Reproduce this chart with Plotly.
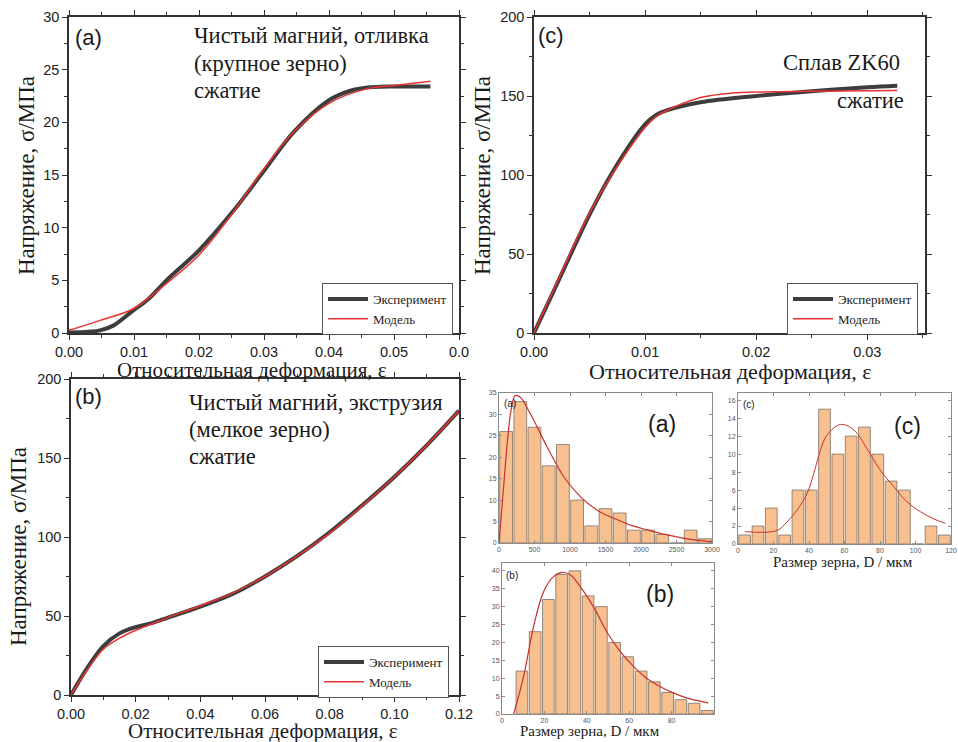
import plotly.graph_objects as go

W, H = 958, 742

# ---------------- data ----------------
# Panel (a): pure Mg cast, compression
a_exp_x = [0.0, 0.003, 0.0048, 0.0068, 0.0099, 0.012, 0.015, 0.02, 0.0253, 0.03, 0.0346, 0.04, 0.0433, 0.0459, 0.05, 0.0556]
a_exp_y = [0.05, 0.12, 0.25, 0.7, 2.15, 3.1, 5.0, 7.85, 11.6, 15.4, 19.1, 22.1, 23.0, 23.3, 23.4, 23.4]
a_mod_x = [0.0, 0.0048, 0.0099, 0.015, 0.02, 0.0253, 0.03, 0.0346, 0.04, 0.0459, 0.05, 0.0556]
a_mod_y = [0.25, 1.2, 2.3, 4.7, 7.4, 11.5, 15.6, 19.1, 21.8, 23.2, 23.5, 23.9]

# Panel (c): ZK60 alloy, compression
c_exp_x = [0.0, 0.002, 0.005, 0.007, 0.01, 0.011, 0.012, 0.015, 0.02, 0.025, 0.03, 0.0327]
c_exp_y = [0.0, 30, 75, 101, 132, 138, 141, 146, 150, 153, 155.5, 156.5]
c_mod_x = [0.0, 0.002, 0.005, 0.007, 0.01, 0.011, 0.012, 0.015, 0.018, 0.02, 0.025, 0.0327]
c_mod_y = [0.0, 31, 76, 100, 130, 137, 141, 149, 152, 152.5, 153, 153.5]

# Panel (b): pure Mg extruded, compression
b_exp_x = [0.0, 0.005, 0.01, 0.015, 0.02, 0.025, 0.03, 0.04, 0.05, 0.06, 0.07, 0.08, 0.09, 0.10, 0.11, 0.12]
b_exp_y = [0.0, 17, 31, 39, 43, 45.5, 49, 56, 64, 75, 88, 103, 120, 138, 158, 180]
b_mod_x = [0.0, 0.005, 0.01, 0.015, 0.02, 0.025, 0.03, 0.04, 0.05, 0.06, 0.07, 0.08, 0.09, 0.10, 0.11, 0.12]
b_mod_y = [0.0, 16, 29, 36, 41, 45, 49, 56.5, 64.5, 75, 88, 102.5, 119.5, 138, 158, 180]

# Histogram (a): grain size, cast Mg
ha_centers = [100, 300, 500, 700, 900, 1100, 1300, 1500, 1700, 1900, 2100, 2300, 2500, 2700, 2900]
ha_counts = [26, 33, 27, 18, 23, 10, 4, 8, 7, 3, 3, 2, 0, 3, 1]
ha_fit_x = [0, 60, 120, 170, 227, 300, 440, 678, 915, 1152, 1389, 1626, 1862, 2100, 2336, 2573, 2810, 3000]
ha_fit_y = [0, 12, 24, 31, 34.4, 34.0, 30.2, 22.4, 15.4, 10.7, 7.6, 5.7, 4.1, 3.0, 2.0, 1.2, 0.6, 0.3]

# Histogram (b): grain size, extruded Mg
hb_centers = [9.375, 15.625, 21.875, 28.125, 34.375, 40.625, 46.875, 53.125, 59.375, 65.625, 71.875, 78.125, 84.375, 90.625, 96.875]
hb_counts = [12, 23, 32, 39, 40, 33, 30, 20, 16, 12, 9, 6, 4, 3, 1]
hb_fit_x = [5.5, 10.2, 14.9, 19.6, 24.3, 28.2, 32.2, 36.9, 43.1, 49.4, 55.7, 62.0, 68.2, 74.5, 80.8, 87.0, 97.3]
hb_fit_y = [0, 10.5, 24.5, 34.2, 38.4, 39.6, 38.9, 35.6, 30.0, 23.0, 17.5, 13.3, 10.0, 7.7, 5.9, 4.5, 3.1]

# Histogram (c): grain size, ZK60
hc_centers = [3.75, 11.25, 18.75, 26.25, 33.75, 41.25, 48.75, 56.25, 63.75, 71.25, 78.75, 86.25, 93.75, 101.25, 108.75, 116.25]
hc_counts = [1, 2, 4, 1, 6, 6, 15, 10, 12, 13, 10, 7, 6, 0, 2, 1]
hc_fit_x = [4.1, 22, 27.6, 33.2, 38.9, 42.6, 46.4, 50.1, 57.7, 65.2, 72.7, 80.2, 87.7, 95.2, 102.7, 110.2, 116.8]
hc_fit_y = [1.37, 1.5, 2.45, 3.75, 5.6, 7.8, 10.4, 12.1, 13.3, 12.7, 10.6, 8.2, 6.4, 4.7, 3.6, 2.8, 2.3]

LEG_EXP = "Эксперимент"
LEG_MOD = "Модель"
X_TITLE = "Относительная деформация, ε"
Y_TITLE = "Напряжение, σ/МПа"
H_TITLE = "Размер зерна, D / мкм"

# ---------------- helpers ----------------
SERIF = "'Liberation Serif', 'Times New Roman', serif"
SANS = "'Liberation Sans', Arial, sans-serif"
EXP_COLOR = "#3d3d3d"
MOD_COLOR = "#e8332f"
BAR_COLOR = "#f9c08f"
FIT_COLOR = "#c8322c"


def px_x(p):
    return p / W


def px_y(p):
    return 1 - p / H


fig = go.Figure()
layout = {}


def main_axes(idx, xd, yd, xr, yr, xtv, xtt, xminor, ytv, yminor):
    xa = "xaxis" if idx == 1 else f"xaxis{idx}"
    ya = "yaxis" if idx == 1 else f"yaxis{idx}"
    xs = "x" if idx == 1 else f"x{idx}"
    ys = "y" if idx == 1 else f"y{idx}"
    common = dict(showgrid=False, zeroline=False, showline=True, linecolor="#333333", linewidth=1.5,
                  mirror="ticks", ticks="outside", ticklen=5, tickwidth=1.2, tickcolor="#333333",
                  automargin=False,
                  tickfont=dict(family=SANS, size=14.5, color="#222222"))
    layout[xa] = dict(domain=[px_x(xd[0]), px_x(xd[1])], range=xr, anchor=ys,
                      tickmode="array", tickvals=xtv, ticktext=xtt,
                      minor=dict(tickmode="array", tickvals=xminor, ticks="outside", ticklen=3, tickcolor="#333333"),
                      **common)
    layout[ya] = dict(domain=[px_y(yd[1]), px_y(yd[0])], range=yr, anchor=xs,
                      tickmode="array", tickvals=ytv, ticktext=[str(v) for v in ytv],
                      minor=dict(tickmode="array", tickvals=yminor, ticks="outside", ticklen=3, tickcolor="#333333"),
                      **common)
    return xs, ys


def hist_axes(idx, xd, yd, xr, yr, xtv, xtt, ytv):
    xa = f"xaxis{idx}"
    ya = f"yaxis{idx}"
    xs = f"x{idx}"
    ys = f"y{idx}"
    common = dict(showgrid=False, zeroline=False, showline=True, linecolor="#8a8a8a", linewidth=1,
                  mirror="ticks", ticks="inside", ticklen=3, tickwidth=1, tickcolor="#8a8a8a",
                  automargin=False,
                  tickfont=dict(family=SANS, size=7, color="#555555"))
    layout[xa] = dict(domain=[px_x(xd[0]), px_x(xd[1])], range=xr, anchor=ys,
                      tickmode="array", tickvals=xtv, ticktext=xtt, **common)
    layout[ya] = dict(domain=[px_y(yd[1]), px_y(yd[0])], range=yr, anchor=xs,
                      tickmode="array", tickvals=ytv, ticktext=[str(v) for v in ytv], **common)
    return xs, ys


# ---------------- main panels ----------------
# (a)
xs, ys = main_axes(1, (69, 459), (17, 333), [0, 0.06], [0, 30],
                   [0, 0.01, 0.02, 0.03, 0.04, 0.05, 0.06],
                   ["0.00", "0.01", "0.02", "0.03", "0.04", "0.05", "0.0"],
                   [0.005, 0.015, 0.025, 0.035, 0.045, 0.055],
                   [0, 5, 10, 15, 20, 25, 30], [2.5, 7.5, 12.5, 17.5, 22.5, 27.5])
fig.add_trace(go.Scatter(x=a_exp_x, y=a_exp_y, mode="lines", line=dict(color=EXP_COLOR, width=4, shape="spline"),
                         name=LEG_EXP, xaxis=xs, yaxis=ys, legend="legend"))
fig.add_trace(go.Scatter(x=a_mod_x, y=a_mod_y, mode="lines", line=dict(color=MOD_COLOR, width=1.5, shape="spline"),
                         name=LEG_MOD, xaxis=xs, yaxis=ys, legend="legend"))

# (c)
xs, ys = main_axes(2, (534, 925), (17, 333), [0, 0.0352], [0, 200],
                   [0, 0.01, 0.02, 0.03], ["0.00", "0.01", "0.02", "0.03"],
                   [0.005, 0.015, 0.025, 0.035],
                   [0, 50, 100, 150, 200], [25, 75, 125, 175])
fig.add_trace(go.Scatter(x=c_exp_x, y=c_exp_y, mode="lines", line=dict(color=EXP_COLOR, width=4, shape="spline"),
                         name=LEG_EXP, xaxis=xs, yaxis=ys, legend="legend2"))
fig.add_trace(go.Scatter(x=c_mod_x, y=c_mod_y, mode="lines", line=dict(color=MOD_COLOR, width=1.5, shape="spline"),
                         name=LEG_MOD, xaxis=xs, yaxis=ys, legend="legend2"))

# (b)
xs, ys = main_axes(3, (71, 459), (379, 695), [0, 0.12], [0, 200],
                   [0, 0.02, 0.04, 0.06, 0.08, 0.10, 0.12],
                   ["0.00", "0.02", "0.04", "0.06", "0.08", "0.10", "0.12"],
                   [0.01, 0.03, 0.05, 0.07, 0.09, 0.11],
                   [0, 50, 100, 150, 200], [25, 75, 125, 175])
fig.add_trace(go.Scatter(x=b_exp_x, y=b_exp_y, mode="lines", line=dict(color=EXP_COLOR, width=4, shape="spline"),
                         name=LEG_EXP, xaxis=xs, yaxis=ys, legend="legend3"))
fig.add_trace(go.Scatter(x=b_mod_x, y=b_mod_y, mode="lines", line=dict(color=MOD_COLOR, width=1.5, shape="spline"),
                         name=LEG_MOD, xaxis=xs, yaxis=ys, legend="legend3"))

# ---------------- histograms ----------------
bar_line = dict(color="#7a7068", width=0.8)

xs, ys = hist_axes(4, (499, 712), (393, 543), [0, 3000], [0, 35],
                   [0, 500, 1000, 1500, 2000, 2500, 3000],
                   ["0", "500", "1000", "1500", "2000", "2500", "3000"],
                   [0, 5, 10, 15, 20, 25, 30, 35])
fig.add_trace(go.Bar(x=ha_centers, y=ha_counts, width=180, marker=dict(color=BAR_COLOR, line=bar_line),
                     xaxis=xs, yaxis=ys, showlegend=False))
fig.add_trace(go.Scatter(x=ha_fit_x, y=ha_fit_y, mode="lines", line=dict(color=FIT_COLOR, width=1.2, shape="spline"),
                         xaxis=xs, yaxis=ys, showlegend=False, cliponaxis=True))

xs, ys = hist_axes(5, (738, 951), (393, 544), [0, 120], [0, 16.8],
                   [0, 20, 40, 60, 80, 100, 120],
                   ["0", "20", "40", "60", "80", "100", "120"],
                   [0, 2, 4, 6, 8, 10, 12, 14, 16])
fig.add_trace(go.Bar(x=hc_centers, y=hc_counts, width=6.6, marker=dict(color=BAR_COLOR, line=bar_line),
                     xaxis=xs, yaxis=ys, showlegend=False))
fig.add_trace(go.Scatter(x=hc_fit_x, y=hc_fit_y, mode="lines", line=dict(color=FIT_COLOR, width=1.0, shape="spline"),
                         xaxis=xs, yaxis=ys, showlegend=False))

xs, ys = hist_axes(6, (502, 714), (563, 714), [0, 100], [0, 42.2],
                   [0, 20, 40, 60, 80], ["0", "20", "40", "60", "80"],
                   [0, 5, 10, 15, 20, 25, 30, 35, 40])
fig.add_trace(go.Bar(x=hb_centers, y=hb_counts, width=5.5, marker=dict(color=BAR_COLOR, line=bar_line),
                     xaxis=xs, yaxis=ys, showlegend=False))
fig.add_trace(go.Scatter(x=hb_fit_x, y=hb_fit_y, mode="lines", line=dict(color=FIT_COLOR, width=1.2, shape="spline"),
                         xaxis=xs, yaxis=ys, showlegend=False))

# ---------------- annotations ----------------
ann = []


def text(x, y, t, size, family=SERIF, xanchor="left", angle=0, color="#1a1a1a"):
    ann.append(dict(x=px_x(x), y=px_y(y), xref="paper", yref="paper", text=t, showarrow=False,
                    xanchor=xanchor, yanchor="middle", textangle=angle, borderpad=0,
                    font=dict(family=family, size=size, color=color)))


# axis titles
text(26, 176, Y_TITLE, 23, xanchor="center", angle=-90)
text(252, 370, X_TITLE, 21, xanchor="center")
text(482, 176, Y_TITLE, 23, xanchor="center", angle=-90)
text(730, 371, X_TITLE, 22, xanchor="center")
text(18, 547, Y_TITLE, 23, xanchor="center", angle=-90)
text(263, 730.5, X_TITLE, 21, xanchor="center")
text(590, 731, H_TITLE, 15, xanchor="center")
text(843, 562, H_TITLE, 15, xanchor="center")

# panel labels
text(74, 37, "(a)", 22, family=SANS)
text(537, 36, "(c)", 22, family=SANS)
text(74, 397, "(b)", 22, family=SANS)

# panel descriptions
text(193, 36, "Чистый магний, отливка", 22.5)
text(193, 64, "(крупное зерно)", 22.5)
text(193, 91, "сжатие", 22.5)
text(901, 62, "Сплав ZK60", 22.5, xanchor="right")
text(905, 101, "сжатие", 22.5, xanchor="right")
text(188, 402, "Чистый магний, экструзия", 22.5)
text(188, 429, "(мелкое зерно)", 22.5)
text(188, 456, "сжатие", 22.5)

# histogram labels
text(503, 403, "(a)", 10, family=SANS)
text(647, 424, "(a)", 23, family=SANS)
text(742, 404, "(c)", 10, family=SANS)
text(893, 426, "(c)", 23, family=SANS)
text(505, 575, "(b)", 10, family=SANS)
text(645, 594, "(b)", 23, family=SANS)

legend_common = dict(bgcolor="white", bordercolor="#555555", borderwidth=1,
                     font=dict(family=SERIF, size=13, color="#222222"),
                     xanchor="left", yanchor="top", tracegroupgap=0, itemwidth=40)

layout.update(dict(
    width=W, height=H,
    margin=dict(l=0, r=0, t=0, b=0, autoexpand=False),
    paper_bgcolor="white", plot_bgcolor="white",
    showlegend=True,
    legend=dict(x=px_x(322), y=px_y(283), **legend_common),
    legend2=dict(x=px_x(787), y=px_y(283), **legend_common),
    legend3=dict(x=px_x(318), y=px_y(646), **legend_common),
    annotations=ann,
    bargap=0.1,
))

fig.update_layout(**layout)
fig.write_html("out.html", config={"displayModeBar": False},
               post_script="document.body.style.margin='0px';document.body.style.overflow='hidden';")
